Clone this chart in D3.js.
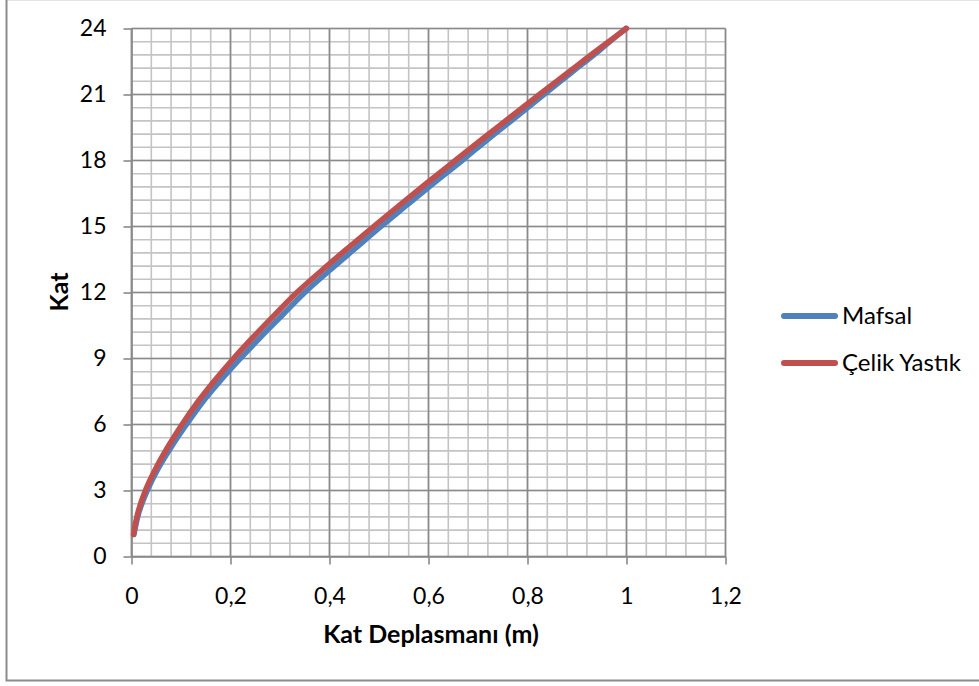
<!DOCTYPE html>
<html><head><meta charset="utf-8">
<script src="https://cdn.jsdelivr.net/npm/d3@7"></script>
<style>
body{margin:0;background:#fff;}
svg{display:block;font-family:Lato,"Noto Sans",sans-serif;}
</style>
</head><body>
<svg id="c" width="979" height="686"></svg>
<script>
const floors = [1,2,3,4,5,6,7,8,9,10,11,12,13,14,15,16,17,18,19,20,21,22,23,24];
const mafsal = [0.005,0.015,0.032,0.054,0.081,0.111,0.143,0.180,0.220,0.262,0.306,0.350,0.400,0.452,0.504,0.558,0.612,0.668,0.722,0.778,0.833,0.889,0.945,0.998];
const celik  = [0.004,0.013,0.028,0.049,0.074,0.102,0.133,0.168,0.206,0.247,0.290,0.334,0.384,0.436,0.489,0.543,0.598,0.654,0.710,0.767,0.824,0.882,0.940,1.000];
const seriesNames = ["Mafsal","Çelik Yastık"];
const seriesColors = ["#4F81BD","#C0504D"];
const xTicks = [0,0.2,0.4,0.6,0.8,1,1.2];
const xTickLabels = ["0","0,2","0,4","0,6","0,8","1","1,2"];
const yTicks = [0,3,6,9,12,15,18,21,24];
const xTitle = "Kat Deplasmanı (m)";
const yTitle = "Kat";

const svg = d3.select("#c");
const L = 131.5, R = 725.5, T = 28.5, B = 556.5;
const x = d3.scaleLinear().domain([0,1.2]).range([L,R]);
const y = d3.scaleLinear().domain([0,24]).range([B,T]);

// outer chart border
svg.append("line").attr("x1",6).attr("x2",980).attr("y1",0.5).attr("y2",0.5).attr("stroke","#e4e4e4").attr("stroke-width",1);
svg.append("path").attr("d","M6.5,-2V680.5H982").attr("fill","none").attr("stroke","#8c8c8c").attr("stroke-width",2);

// minor grid
const xMinor = d3.range(0,31).map(i=>i*0.04);
const yMinor = d3.range(0,41).map(i=>i*0.6);
const g = svg.append("g");
g.selectAll(".vx").data(xMinor).join("line")
  .attr("x1",d=>x(d)).attr("x2",d=>x(d)).attr("y1",T).attr("y2",B)
  .attr("stroke","#c4c4c4").attr("stroke-width",1.6);
g.selectAll(".hy").data(yMinor).join("line")
  .attr("y1",d=>y(d)).attr("y2",d=>y(d)).attr("x1",L).attr("x2",R)
  .attr("stroke","#c4c4c4").attr("stroke-width",1.6);
// major grid
g.selectAll(".vX").data(xTicks).join("line")
  .attr("x1",d=>x(d)).attr("x2",d=>x(d)).attr("y1",T).attr("y2",B)
  .attr("stroke","#8a8a8a").attr("stroke-width",1.6);
g.selectAll(".hY").data(yTicks).join("line")
  .attr("y1",d=>y(d)).attr("y2",d=>y(d)).attr("x1",L).attr("x2",R)
  .attr("stroke","#8a8a8a").attr("stroke-width",1.6);

// axes
const yAxis = d3.axisLeft(y).tickValues(yTicks).tickSize(8).tickSizeOuter(0).tickPadding(17);
const ya = svg.append("g").attr("transform",`translate(${L},0)`).call(yAxis);
const xAxis = d3.axisBottom(x).tickValues(xTicks).tickFormat((d,i)=>xTickLabels[i]).tickSize(8).tickSizeOuter(0).tickPadding(23);
const xa = svg.append("g").attr("transform",`translate(0,${B})`).call(xAxis);
[ya,xa].forEach(a=>{
  a.select(".domain").attr("stroke","#8a8a8a").attr("stroke-width",1.6);
  a.selectAll(".tick line").attr("stroke","#8a8a8a").attr("stroke-width",1.6);
  a.selectAll(".tick text").attr("fill","#000").style("font-size","23px").style("font-family","Lato");
});

// titles
svg.append("text").attr("x",431).attr("y",643).attr("text-anchor","middle")
  .style("font-size","25px").style("font-weight","bold").text(xTitle);
svg.append("text").attr("transform","translate(68,292) rotate(-90)").attr("text-anchor","middle")
  .style("font-size","25px").style("font-weight","bold").text(yTitle);

// lines
const series = [mafsal, celik];
const line = d3.line().x(d=>x(d[0])).y(d=>y(d[1])).curve(d3.curveCatmullRom.alpha(0.5));
series.forEach((vals,i)=>{
  svg.append("path").datum(vals.map((v,j)=>[v,floors[j]]))
    .attr("d",line).attr("fill","none").attr("stroke",seriesColors[i])
    .attr("stroke-width",5.5).attr("stroke-linecap","round").attr("stroke-linejoin","round");
});

// legend
const legY = [316, 363];
seriesNames.forEach((n,i)=>{
  svg.append("line").attr("x1",784).attr("x2",835).attr("y1",legY[i]).attr("y2",legY[i])
    .attr("stroke",seriesColors[i]).attr("stroke-width",6).attr("stroke-linecap","round");
  svg.append("text").attr("x",842).attr("y",legY[i]+8).style("font-size","24px").text(n);
});
</script>
</body></html>
